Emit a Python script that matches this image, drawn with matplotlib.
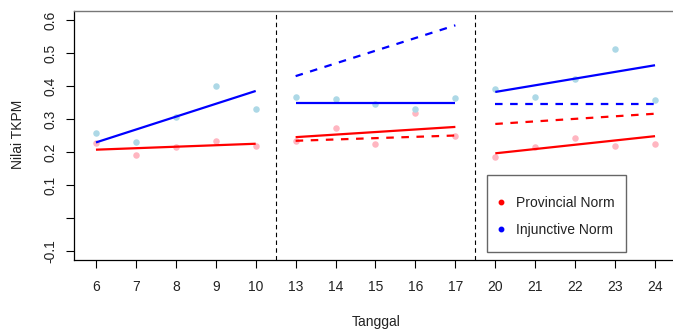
import matplotlib
matplotlib.use("Agg")
import matplotlib.pyplot as plt
from matplotlib.lines import Line2D
from matplotlib.patches import Rectangle

plt.rcParams['font.family'] = ['Liberation Sans', 'DejaVu Sans']

# ---- data ----
tanggal = ["6", "7", "8", "9", "10", "13", "14", "15", "16", "17", "20", "21", "22", "23", "24"]
provincial = [0.227, 0.190, 0.215, 0.233, 0.219,
              0.234, 0.272, 0.224, 0.317, 0.248,
              0.184, 0.214, 0.243, 0.219, 0.224]
injunctive = [0.258, 0.230, 0.306, 0.400, 0.329,
              0.368, 0.360, 0.345, 0.331, 0.363,
              0.390, 0.368, 0.420, 0.513, 0.357]

# fitted trend lines per period: (first index, last index)
segments = [(1, 5), (6, 10), (11, 15)]
prov_solid = [(0.207, 0.225), (0.245, 0.276), (0.196, 0.248)]
inj_solid = [(0.229, 0.385), (0.349, 0.349), (0.382, 0.463)]
prov_dashed = [None, (0.234, 0.250), (0.285, 0.316)]
inj_dashed = [None, (0.430, 0.584), (0.347, 0.347)]
period_breaks = [5.5, 10.5]

y_ticks = [-0.1, 0.0, 0.1, 0.2, 0.3, 0.4, 0.5, 0.6]
y_ticklabels = ["-0.1", "", "0.1", "0.2", "0.3", "0.4", "0.5", "0.6"]

legend_labels = ["Provincial Norm", "Injunctive Norm"]

# ---- figure ----
W, H = 673, 331
fig = plt.figure(figsize=(W / 100, H / 100), dpi=100)
left, right, top, bottom = 73.6, 677.4, 10.8, 260.2
ax = fig.add_axes([left / W, 1 - bottom / H, (right - left) / W, (bottom - top) / H])

x = list(range(1, len(tanggal) + 1))
ax.scatter(x, provincial, s=22, color='#FFB6C1', zorder=2, linewidths=0)
ax.scatter(x, injunctive, s=22, color='#ADD8E6', zorder=2, linewidths=0)

for (a, b), ps, ij, pd_, id_ in zip(segments, prov_solid, inj_solid, prov_dashed, inj_dashed):
    ax.plot([a, b], ps, color='#FF0000', lw=1.6, zorder=3, solid_capstyle='butt')
    ax.plot([a, b], ij, color='#0000FF', lw=1.6, zorder=3, solid_capstyle='butt')
    if pd_ is not None:
        ax.plot([a, b], pd_, color='#FF0000', lw=1.6, zorder=3, dashes=(3.4, 3.4))
    if id_ is not None:
        ax.plot([a, b], id_, color='#0000FF', lw=1.6, zorder=3, dashes=(3.4, 3.4))

for xb in period_breaks:
    ax.axvline(xb, color='black', lw=0.8, dashes=(4, 3), zorder=1)

ax.set_xlim(0.44, 15.56)
ax.set_ylim(-0.128, 0.628)
ax.set_xticks(x)
ax.set_xticklabels(tanggal)
ax.set_yticks(y_ticks)
ax.set_yticklabels(y_ticklabels, rotation=90, va='center')

ax.tick_params(axis='x', length=6, width=0.8, pad=8.4, labelsize=10, colors='black', labelcolor='#222222')
ax.tick_params(axis='y', length=6, width=0.8, pad=5.5, labelsize=10, colors='black', labelcolor='#222222')
for s in ['left', 'bottom']:
    ax.spines[s].set_color('black')
    ax.spines[s].set_linewidth(0.9)
for s in ['top', 'right']:
    ax.spines[s].set_color('#777777')
    ax.spines[s].set_linewidth(1.0)

fig.text(376 / W, 1 - 322 / H, "Tanggal", ha='center', va='center', fontsize=10, color='#222222')
fig.text(18.5 / W, 1 - 134 / H, "Nilai TKPM", ha='center', va='center', rotation=90,
         fontsize=10, color='#222222')

# legend box
box = Rectangle((487 / W, 1 - 252 / H), (626 - 487) / W, (252 - 175) / H,
                transform=fig.transFigure, fill=True, facecolor='white',
                edgecolor='#666666', linewidth=1.0, zorder=5, clip_on=False)
ax.add_patch(box)
handles = [Line2D([], [], ls='none', marker='o', markersize=3.2, color='#FF0000'),
           Line2D([], [], ls='none', marker='o', markersize=3.2, color='#0000FF')]
leg = ax.legend(handles, legend_labels,
                loc='upper left', bbox_to_anchor=(498.5 / W, 1 - 196 / H),
                bbox_transform=fig.transFigure, borderaxespad=0, borderpad=0,
                fontsize=10, frameon=False,
                handlelength=0.4, handletextpad=0.85, labelspacing=0.94)
leg.set_zorder(6)
for t in leg.get_texts():
    t.set_color('#222222')

fig.savefig("out.png", dpi=100)
